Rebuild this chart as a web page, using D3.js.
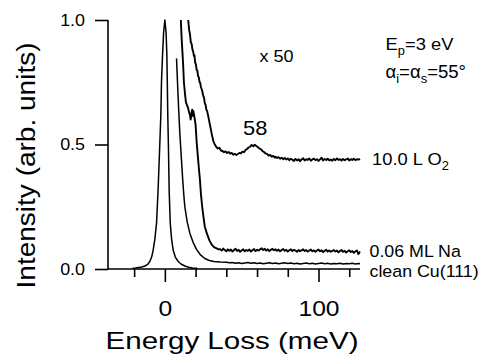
<!DOCTYPE html>
<html><head><meta charset="utf-8">
<script src="https://cdn.jsdelivr.net/npm/d3@7"></script>
<style>
html,body{margin:0;padding:0;background:#fff;}
svg{display:block;font-family:"Liberation Sans",Arial,sans-serif;}
</style></head>
<body>
<script>
// ---- data: [energy loss (meV), intensity (arb. units)] ----
const elasticPeak = [[-21,0.003],[-19,0.004],[-17,0.006],[-15,0.008],[-13,0.012],[-11,0.02],[-9.8,0.03],[-8.6,0.048],[-7.6,0.076],[-6.5,0.12],[-5.4,0.185],[-4.4,0.317],[-3.3,0.5],[-2.6,0.62],[-2.2,0.75],[-1.5,0.86],[-0.8,0.95],[0,1.0],[0.8,0.95],[1.3,0.86],[1.6,0.75],[1.9,0.62],[2.3,0.5],[2.8,0.317],[3.5,0.185],[4.4,0.12],[5.4,0.076],[6.8,0.048],[8.7,0.03],[10.5,0.02],[13,0.012],[15.5,0.007],[18,0.004],[21,0.003]];

const cleanCu = [[7.6,0.846],[8.3,0.74],[9.0,0.64],[9.7,0.55],[10.3,0.49],[11.0,0.42],[11.6,0.36],[12.3,0.30],[13,0.25],[14.5,0.19],[16.3,0.143],[18.5,0.105],[20.7,0.078],[23,0.058],[26,0.042],[29,0.034],[32,0.03],[36,0.028],[40,0.027],[42,0.025],[44,0.026],[46,0.023],[48,0.025],[50,0.022],[52,0.024],[54,0.026],[56,0.023],[58,0.025],[60,0.022],[62,0.024],[64,0.021],[66,0.023],[68,0.025],[70,0.022],[72,0.024],[74,0.021],[76,0.023],[78,0.025],[80,0.022],[82,0.024],[84,0.021],[86,0.023],[88,0.020],[90,0.022],[92,0.024],[94,0.021],[96,0.023],[98,0.020],[100,0.022],[102,0.024],[104,0.021],[106,0.023],[108,0.020],[110,0.022],[112,0.021],[114,0.023],[116,0.020],[118,0.022],[120,0.021],[122,0.023],[124,0.020],[126,0.022],[127,0.021]];

const naCoverage = [[10.4,1.0],[10.9,0.93],[11.3,0.886],[11.9,0.82],[12.4,0.75],[13,0.71],[13.7,0.67],[14.3,0.66],[15.2,0.645],[15.7,0.63],[16.3,0.62],[16.8,0.6],[17.3,0.625],[17.8,0.64],[18.2,0.615],[18.5,0.635],[19,0.62],[19.5,0.6],[20,0.58],[20.4,0.54],[20.7,0.51],[21.5,0.45],[22.2,0.40],[22.8,0.36],[23.5,0.30],[24.3,0.25],[25.1,0.21],[26,0.17],[27.5,0.14],[29,0.115],[30.5,0.098],[32,0.088],[34,0.082],[35,0.079],[36,0.080],[37,0.074],[38,0.082],[39,0.076],[40,0.071],[41,0.079],[42,0.073],[43,0.078],[44,0.070],[45,0.076],[46,0.081],[47,0.072],[48,0.077],[49,0.069],[50,0.075],[51,0.079],[52,0.071],[53,0.076],[54,0.073],[55,0.078],[56,0.070],[57,0.075],[58,0.080],[59,0.072],[60,0.077],[61,0.074],[62,0.079],[63,0.083],[64,0.076],[65,0.081],[66,0.074],[67,0.079],[68,0.072],[69,0.077],[70,0.081],[71,0.075],[72,0.079],[73,0.073],[74,0.078],[75,0.071],[76,0.076],[77,0.080],[78,0.073],[79,0.077],[80,0.070],[81,0.075],[82,0.079],[83,0.072],[84,0.077],[85,0.074],[86,0.069],[87,0.076],[88,0.071],[89,0.075],[90,0.079],[91,0.072],[92,0.076],[93,0.070],[94,0.074],[95,0.078],[96,0.071],[97,0.075],[98,0.069],[99,0.074],[100,0.078],[101,0.071],[102,0.075],[103,0.068],[104,0.073],[105,0.077],[106,0.070],[107,0.074],[108,0.069],[109,0.073],[110,0.076],[111,0.070],[112,0.074],[113,0.067],[114,0.072],[115,0.076],[116,0.069],[117,0.073],[118,0.066],[119,0.071],[120,0.075],[121,0.068],[122,0.072],[123,0.065],[124,0.071],[125,0.074],[126,0.060],[127,0.070]];

const o2Exposure = [[15.2,1.0],[15.8,0.96],[16.3,0.945],[16.9,0.91],[17.4,0.905],[18.0,0.88],[18.5,0.872],[18.9,0.855],[19.3,0.858],[19.7,0.83],[20.2,0.822],[20.7,0.80],[21.2,0.796],[21.6,0.775],[22.1,0.77],[22.6,0.75],[23.0,0.748],[23.5,0.73],[24.0,0.722],[24.5,0.71],[25.0,0.695],[25.5,0.688],[26.0,0.665],[26.5,0.66],[27.0,0.64],[27.5,0.635],[28.2,0.615],[29,0.59],[29.8,0.565],[30.6,0.54],[31.5,0.515],[32.5,0.5],[33.5,0.49],[34.5,0.484],[35.5,0.487],[36.5,0.476],[37.5,0.474],[38.5,0.469],[39.5,0.472],[40.5,0.466],[41.5,0.47],[42.5,0.463],[43.5,0.466],[44.5,0.459],[45.5,0.463],[46.5,0.458],[47.5,0.462],[48.5,0.466],[49.5,0.464],[50.5,0.471],[51.5,0.469],[52.5,0.478],[53.5,0.482],[54.5,0.488],[55.5,0.491],[56.5,0.498],[57.5,0.493],[58.5,0.499],[59.5,0.494],[60.5,0.49],[61.5,0.484],[62.5,0.481],[63.5,0.474],[64.5,0.47],[65.5,0.464],[66.5,0.462],[67.5,0.455],[68.5,0.458],[69.5,0.451],[70.5,0.454],[71.5,0.448],[72,0.451],[73,0.446],[74,0.449],[75,0.443],[76,0.447],[77,0.441],[78,0.446],[79,0.440],[80,0.444],[81,0.437],[82,0.443],[83,0.439],[84,0.434],[85,0.442],[86,0.436],[87,0.441],[88,0.433],[89,0.440],[90,0.445],[91,0.436],[92,0.441],[93,0.438],[94,0.444],[95,0.435],[96,0.440],[97,0.443],[98,0.437],[99,0.441],[100,0.434],[101,0.440],[102,0.447],[103,0.436],[104,0.442],[105,0.438],[106,0.443],[107,0.436],[108,0.440],[109,0.435],[110,0.442],[111,0.437],[112,0.444],[113,0.438],[114,0.441],[115,0.435],[116,0.442],[117,0.437],[118,0.440],[119,0.444],[120,0.436],[121,0.441],[122,0.438],[123,0.443],[124,0.437],[125,0.441],[126,0.439],[127,0.443]];

const yTicks = [0, 0.5, 1.0];
const xMajorTicks = [0, 100];
const xMinorTicks = [-20, 20, 40, 60, 80, 120];

// ---- drawing ----
const W = 486, H = 356;
const svg = d3.select("body").append("svg").attr("width", W).attr("height", H);

const x = d3.scaleLinear().domain([-37, 127]).range([108, 360]);
const y = d3.scaleLinear().domain([0, 1]).range([269, 20]);

// y axis
const yAxis = svg.append("g").attr("transform", `translate(${x(-37)},0)`)
  .call(d3.axisLeft(y).tickValues(yTicks).tickSize(13).tickPadding(7.5).tickFormat(d3.format(".1f")));
yAxis.select(".domain").attr("d", `M0,${y(1)}V${y(0)}`).attr("stroke-width", 1.6);
yAxis.selectAll(".tick line").attr("stroke-width", 1.6);
yAxis.selectAll(".tick text").attr("font-size", 16).attr("fill", "#000")
  .attr("font-family", "Liberation Sans, Arial, sans-serif")
  .attr("transform", "scale(1.12,1)");

// x axis (major with labels)
const xAxis = svg.append("g").attr("transform", `translate(0,${y(0)})`)
  .call(d3.axisBottom(x).tickValues(xMajorTicks).tickSize(13).tickPadding(18).tickFormat(d3.format("d")));
xAxis.select(".domain").attr("d", `M${x(-37)},0H${x(127)}`).attr("stroke-width", 1.6);
xAxis.selectAll(".tick line").attr("stroke-width", 1.6);
xAxis.selectAll(".tick text").attr("font-size", 22).attr("fill", "#000")
  .attr("font-family", "Liberation Sans, Arial, sans-serif")
  .attr("transform", "scale(1.12,1)");
// minor ticks
const xMinor = svg.append("g").attr("transform", `translate(0,${y(0)})`)
  .call(d3.axisBottom(x).tickValues(xMinorTicks).tickSize(8).tickFormat(""));
xMinor.select(".domain").remove();
xMinor.selectAll(".tick line").attr("stroke-width", 1.6);

// curves
const line = d3.line().x(d => x(d[0])).y(d => y(d[1]));
const curves = [
  {data: elasticPeak, w: 1.5},
  {data: cleanCu, w: 1.5},
  {data: naCoverage, w: 1.9},
  {data: o2Exposure, w: 1.9}
];
svg.append("g").selectAll("path").data(curves).join("path")
  .attr("d", d => line(d.data))
  .attr("fill", "none").attr("stroke", "#000")
  .attr("stroke-width", d => d.w).attr("stroke-linejoin", "round");

// titles
svg.append("text").attr("x", 232).attr("y", 349.3).attr("text-anchor", "middle")
  .attr("font-size", 24.5).attr("textLength", 253).attr("lengthAdjust", "spacingAndGlyphs")
  .text("Energy Loss (meV)");
svg.append("text").attr("transform", "translate(35,165.5) rotate(-90)").attr("text-anchor", "middle")
  .attr("font-size", 25.5).attr("textLength", 246).attr("lengthAdjust", "spacingAndGlyphs")
  .text("Intensity (arb. units)");

// annotations
function label(px, py, size, sx, parts) {
  const t = svg.append("text").attr("transform", `translate(${px},${py}) scale(${sx},1)`)
    .attr("font-size", size).attr("fill", "#000");
  let shift = 0;
  parts.forEach(p => {
    const s = p.sub ? 4.5 : 0;
    t.append("tspan").attr("dy", s - shift).attr("font-size", p.sub ? size * 0.7 : size).text(p.t);
    shift = s;
  });
}
label(259.5, 62, 17, 1.06, [{t: "x 50"}]);
label(243, 135, 21, 1.04, [{t: "58"}]);
label(385.5, 50, 17, 1.08, [{t: "E"}, {t: "p", sub: true}, {t: "=3 eV"}]);
label(385.5, 78.3, 17.5, 1.06, [{t: "α"}, {t: "i", sub: true}, {t: "=α"}, {t: "s", sub: true}, {t: "=55°"}]);
label(372, 165, 17, 1.08, [{t: "10.0 L O"}, {t: "2", sub: true}]);
label(369.5, 257, 16.5, 1.08, [{t: "0.06 ML Na"}]);
label(369.5, 277, 16.5, 1.08, [{t: "clean Cu(111)"}]);
</script>
</body></html>
